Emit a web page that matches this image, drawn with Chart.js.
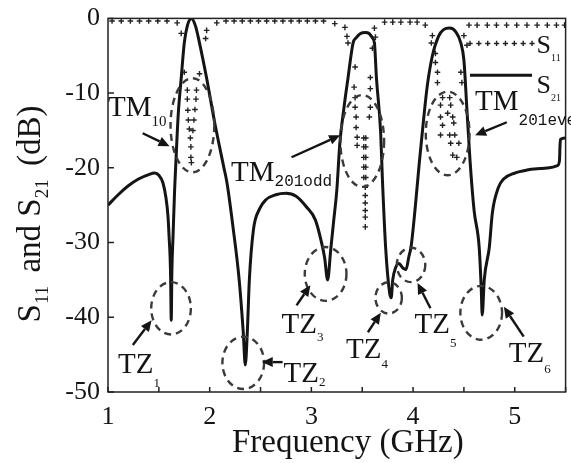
<!DOCTYPE html>
<html>
<head>
<meta charset="utf-8">
<script src="https://cdn.jsdelivr.net/npm/chart.js@4.4.1/dist/chart.umd.min.js"></script>
<style>
  html, body { margin:0; padding:0; background:#fff; }
  #wrap { width:571px; height:463px; position:relative; }
</style>
</head>
<body>
<div id="wrap"><canvas id="chart"></canvas></div>
<script>
/* ---------- data (GHz / dB) ---------- */
// S21, solid line
const s21Freq = [
  1.00, 1.10, 1.20, 1.30, 1.40, 1.46, 1.50, 1.54, 1.57, 1.59,
  1.60, 1.615, 1.622, 1.628, 1.64, 1.655, 1.665, 1.69, 1.72, 1.75,
  1.78, 1.82, 1.86, 1.90, 1.97, 2.05, 2.14, 2.17, 2.23, 2.29,
  2.33, 2.35, 2.37, 2.39, 2.43, 2.49, 2.55, 2.65, 2.75, 2.85,
  2.95, 3.04, 3.10, 3.13, 3.16, 3.19, 3.22, 3.25, 3.28, 3.32,
  3.36, 3.41, 3.44, 3.48, 3.53, 3.57, 3.60, 3.62, 3.64, 3.68, 3.70, 3.73,
  3.77, 3.785, 3.80, 3.83, 3.86, 3.90, 3.93, 3.96, 3.98, 4.02,
  4.06, 4.10, 4.14, 4.19, 4.25, 4.30, 4.36, 4.42, 4.47, 4.50,
  4.53, 4.56, 4.60, 4.65, 4.67, 4.68, 4.70, 4.75, 4.78, 4.84,
  4.89, 5.00, 5.12, 5.25, 5.34, 5.42, 5.44, 5.445, 5.45, 5.50
];
const s21Db = [
  -25.0, -23.6, -22.4, -21.5, -20.9, -20.7, -21.0, -22.0, -24.0, -26.5,
  -29.0, -34.0, -40.4, -34.0, -29.0, -23.0, -20.0, -13.0, -8.0, -3.3,
  -1.0, 0, -1.0, -3.3, -8.0, -14.0, -20.0, -22.0, -28.0, -35.0,
  -42.0, -46.4, -42.0, -35.0, -28.3, -25.5, -24.3, -23.6, -23.4, -23.8,
  -25.2, -27.0, -30.0, -32.0, -35.0, -31.0, -27.0, -23.0, -16.7, -12.0,
  -8.0, -3.3, -2.6, -2.05, -1.9, -2.05, -2.6, -3.3, -8.0, -15.0, -22.0, -30.6,
  -36.8, -37.4, -35.0, -33.3, -32.8, -33.4, -33.6, -31.8, -30.6, -25.5,
  -19.5, -14.0, -9.0, -5.0, -2.4, -1.5, -1.3, -1.8, -3.3, -5.6,
  -12.3, -19.0, -25.7, -30.6, -36.0, -39.7, -35.0, -30.6, -26.0, -22.6,
  -21.5, -20.7, -20.3, -20.1, -20.0, -19.7, -19.0, -17.0, -16.2, -16.0
];

// S11, '+' markers (one line per group, same count in both arrays)
const s11Freq = [
  1.04, 1.13, 1.22, 1.31, 1.40, 1.49, 1.58,
  1.68, 1.72, 1.75,
  1.78, 1.78, 1.785, 1.79, 1.80, 1.81, 1.815, 1.815, 1.82,
  1.835, 1.845, 1.855, 1.865, 1.87,
  1.90, 1.96, 1.97, 2.07,
  2.16, 2.24, 2.32, 2.40, 2.48, 2.56, 2.64, 2.72, 2.80, 2.88, 2.96, 3.04, 3.12,
  3.23, 3.33, 3.35, 3.36, 3.43, 3.42, 3.43, 3.43, 3.44, 3.44, 3.45, 3.45,
  3.515, 3.535, 3.515, 3.535, 3.515, 3.535, 3.515, 3.535, 3.515, 3.535,
  3.53, 3.53, 3.53, 3.53, 3.53, 3.53,
  3.57, 3.58, 3.58, 3.58, 3.60, 3.63, 3.62,
  3.72, 3.80, 3.88, 3.97, 4.04,
  4.12, 4.19, 4.18, 4.22, 4.22, 4.24, 4.24,
  4.29, 4.36, 4.27, 4.37, 4.27, 4.34, 4.39, 4.29, 4.40, 4.27, 4.36, 4.41, 4.37, 4.45, 4.39, 4.43,
  4.48, 4.47, 4.53, 4.50, 4.55,
  4.63, 4.73, 4.82, 4.92, 5.02, 5.12, 5.22, 5.32, 5.41, 5.49
];
const s11Db = [
  -0.35, -0.35, -0.35, -0.35, -0.35, -0.35, -0.35,
  -0.6, -2.0, -7.2,
  -9.6, -10.8, -12.3, -13.6, -14.8, -16.0, -17.2, -18.6, -19.3,
  -15.0, -13.6, -12.2, -10.8, -9.6,
  -7.4, -2.7, -1.6, -0.6,
  -0.35, -0.35, -0.35, -0.35, -0.35, -0.35, -0.35, -0.35, -0.35, -0.35, -0.35, -0.35, -0.35,
  -0.7, -1.2, -2.4, -3.3, -6.5, -9.2, -10.6, -11.9, -13.2, -14.6, -15.9, -17.0,
  -16.0, -16.0, -17.2, -17.2, -18.6, -18.6, -19.9, -19.9, -21.3, -21.3,
  -22.6, -23.7, -24.7, -25.7, -26.6, -27.9,
  -13.2, -11.9, -9.4, -7.9, -4.0, -2.5, -1.3,
  -0.5, -0.5, -0.5, -0.5, -0.5,
  -0.9, -2.3, -3.3, -4.7, -5.9, -7.2, -8.6,
  -10.6, -10.6, -11.6, -11.6, -13.2, -12.7, -13.2, -14.3, -14.0, -15.6, -15.6, -15.6, -16.7, -16.7, -18.3, -18.6,
  -8.6, -7.2, -3.6, -2.3, -0.9,
  -0.9, -0.9, -0.9, -0.9, -0.9, -0.9, -0.9, -0.9, -0.9, -0.9
];

const xTickLabels = [1, 2, 3, 4, 5];
const yTickLabels = [0, -10, -20, -30, -40, -50];

/* ---------- annotations (in axis units) ---------- */
// dashed rings: centre f, centre dB, half width GHz, half height dB
const rings = [
  [1.83, -14.3, 0.215, 6.3],
  [3.50, -16.4, 0.215, 6.15],
  [4.34, -15.4, 0.215, 5.6],
  [1.62, -38.8, 0.195, 3.5],
  [2.33, -46.1, 0.205, 3.5],
  [3.14, -34.2, 0.205, 3.6],
  [3.76, -37.4, 0.13, 2.1],
  [3.98, -33.0, 0.14, 2.3],
  [4.67, -39.4, 0.205, 3.6]
];
// arrows: tail f, tail dB, head f, head dB
const arrows = [
  [1.341, -15.37, 1.605, -17.11],
  [2.805, -18.58, 3.283, -15.64],
  [4.922, -13.90, 4.610, -15.64],
  [1.244, -43.7, 1.429, -40.4],
  [2.717, -46.0, 2.512, -46.0],
  [2.854, -38.4, 2.990, -35.7],
  [3.556, -42.0, 3.683, -39.4],
  [4.171, -38.8, 4.044, -35.4],
  [5.088, -42.6, 4.893, -38.6]
];
// labels: text, subscript, f, dB, subscript drop (px), subscript font
const SUB_SERIF = '13px "Liberation Serif"';
const SUB_MONO = '16px "Liberation Mono"';
const notes = [
  ['TM', '10', 1.0, -13.1, 10, '15px "Liberation Serif"'],
  ['TM', '201odd', 2.21, -21.8, 5, SUB_MONO],
  ['TM', '201even', 4.61, -12.3, 15, SUB_MONO],
  ['TZ', '1', 1.098, -47.5, 14, SUB_SERIF],
  ['TZ', '2', 2.727, -48.7, 4, SUB_SERIF],
  ['TZ', '3', 2.707, -42.1, 8, SUB_SERIF],
  ['TZ', '4', 3.341, -45.5, 10, SUB_SERIF],
  ['TZ', '5', 4.015, -42.1, 14, SUB_SERIF],
  ['TZ', '6', 4.941, -46.0, 11, SUB_SERIF]
];

const INK = '#141414';
const SERIF = '"Liberation Serif", "Times New Roman", serif';

/* ---------- helpers ---------- */
function cross(ctx, x, y, r) {
  ctx.moveTo(x - r, y); ctx.lineTo(x + r, y);
  ctx.moveTo(x, y - r); ctx.lineTo(x, y + r);
}

// text with subscripts: parts = [[text, isSub], ...], drawn from (x, y) along +x
function richText(ctx, parts, x, y, mainFont, subFont, drop, gap) {
  parts.forEach(([t, sub]) => {
    ctx.font = sub ? subFont : mainFont;
    ctx.fillText(t, x, sub ? y + drop : y);
    x += ctx.measureText(t).width + (sub ? gap : 0);
  });
  return x;
}
function richWidth(ctx, parts, mainFont, subFont, gap) {
  let w = 0;
  parts.forEach(([t, sub]) => {
    ctx.font = sub ? subFont : mainFont;
    w += ctx.measureText(t).width + (sub ? gap : 0);
  });
  return w;
}

const decor = {
  id: 'decor',
  afterDatasetsDraw(chart) {
    const { ctx, chartArea: a, scales } = chart;
    const X = f => scales.x.getPixelForValue(f);
    const Y = d => scales.y.getPixelForValue(d);
    ctx.save();

    // frame + inward ticks
    ctx.strokeStyle = '#222';
    ctx.lineWidth = 1.5;
    ctx.strokeRect(a.left, a.top, a.right - a.left, a.bottom - a.top);
    ctx.beginPath();
    scales.x.ticks.forEach(t => { const p = X(t.value); ctx.moveTo(p, a.bottom); ctx.lineTo(p, a.bottom - 5); });
    scales.y.ticks.forEach(t => { const p = Y(t.value); ctx.moveTo(a.left, p); ctx.lineTo(a.left + 6, p); });
    ctx.stroke();

    // dashed rings
    ctx.setLineDash([7, 5]);
    ctx.lineWidth = 2.4;
    ctx.strokeStyle = '#3a3a3a';
    rings.forEach(([f, d, hw, hh]) => {
      ctx.beginPath();
      ctx.ellipse(X(f), Y(d), X(f + hw) - X(f), Y(d - hh) - Y(d), 0, 0, Math.PI * 2);
      ctx.stroke();
    });
    ctx.setLineDash([]);

    // arrows
    ctx.strokeStyle = INK;
    ctx.fillStyle = INK;
    ctx.lineWidth = 2.4;
    arrows.forEach(([f0, d0, f1, d1]) => {
      const x0 = X(f0), y0 = Y(d0), x1 = X(f1), y1 = Y(d1);
      const ang = Math.atan2(y1 - y0, x1 - x0), L = 11, W = 5;
      const bx = x1 - L * Math.cos(ang), by = y1 - L * Math.sin(ang);
      ctx.beginPath(); ctx.moveTo(x0, y0); ctx.lineTo(bx, by); ctx.stroke();
      ctx.beginPath();
      ctx.moveTo(x1, y1);
      ctx.lineTo(bx + W * Math.sin(ang), by - W * Math.cos(ang));
      ctx.lineTo(bx - W * Math.sin(ang), by + W * Math.cos(ang));
      ctx.closePath(); ctx.fill();
    });

    // labels
    ctx.textAlign = 'left';
    ctx.textBaseline = 'alphabetic';
    notes.forEach(([main, sub, f, d, dy, subFont]) => {
      richText(ctx, [[main, false], [sub, true]], X(f), Y(d), '29px ' + SERIF, subFont, dy, 0);
    });

    // legend (inside, top right)
    const lx0 = X(4.56), lx1 = X(5.17);
    ctx.strokeStyle = '#222';
    ctx.lineWidth = 1.4;
    ctx.beginPath();
    for (let i = 0; i < 8; i++) cross(ctx, lx0 + i * (lx1 - lx0) / 7, Y(-3.35), 2.6);
    ctx.stroke();
    ctx.strokeStyle = INK;
    ctx.lineWidth = 3;
    ctx.beginPath(); ctx.moveTo(lx0, Y(-7.6)); ctx.lineTo(lx1, Y(-7.6)); ctx.stroke();
    richText(ctx, [['S', false], ['11', true]], X(5.215), Y(-4.6), '26px ' + SERIF, '10px ' + SERIF, 8, 0);
    richText(ctx, [['S', false], ['21', true]], X(5.215), Y(-10.0), '26px ' + SERIF, '10px ' + SERIF, 8, 0);

    // axis titles
    const tFont = '33px ' + SERIF, sFont = '19px ' + SERIF;
    ctx.font = tFont;
    ctx.textAlign = 'center';
    ctx.fillText('Frequency (GHz)', (a.left + a.right) / 2 + 11, 452);
    ctx.textAlign = 'left';
    const yParts = [['S', false], ['11', true], [' and S', false], ['21', true], [' (dB)', false]];
    const w = richWidth(ctx, yParts, tFont, sFont, 5);
    ctx.translate(40, 214);
    ctx.rotate(-Math.PI / 2);
    richText(ctx, yParts, -w / 2, 0, tFont, sFont, 8, 5);

    ctx.restore();
  }
};

new Chart(document.getElementById('chart'), {
  type: 'scatter',
  data: {
    datasets: [
      {
        label: 'S11',
        data: s11Freq.map((f, i) => ({ x: f, y: s11Db[i] })),
        showLine: false,
        pointStyle: 'cross',
        pointRadius: 2.8,
        pointBorderWidth: 1.4,
        pointBorderColor: '#222',
        pointBackgroundColor: '#222'
      },
      {
        label: 'S21',
        data: s21Freq.map((f, i) => ({ x: f, y: s21Db[i] })),
        showLine: true,
        borderColor: INK,
        borderWidth: 3,
        pointRadius: 0,
        cubicInterpolationMode: 'monotone'
      }
    ]
  },
  options: {
    responsive: true,
    maintainAspectRatio: false,
    animation: false,
    layout: { padding: { top: 18, right: 4, left: 0, bottom: 0 } },
    plugins: { legend: { display: false }, tooltip: { enabled: false } },
    scales: {
      x: {
        type: 'linear', min: 1, max: 5.5,
        grid: { display: false, drawTicks: false },
        border: { display: false },
        ticks: {
          stepSize: 0.5, autoSkip: false, maxRotation: 0, padding: 4,
          color: INK, font: { family: SERIF, size: 26, lineHeight: 1.66 },
          callback: v => xTickLabels.includes(v) ? String(v) : ''
        },
        afterFit: s => { s.height = 71; }
      },
      y: {
        min: -50, max: 0,
        grid: { display: false, drawTicks: false },
        border: { display: false },
        ticks: {
          stepSize: 10, padding: 8,
          color: INK, font: { family: SERIF, size: 26, lineHeight: 0.8 },
          callback: v => yTickLabels.includes(v) ? String(v) : ''
        },
        afterFit: s => { s.width = 108; }
      }
    }
  },
  plugins: [decor]
});
</script>
</body>
</html>
